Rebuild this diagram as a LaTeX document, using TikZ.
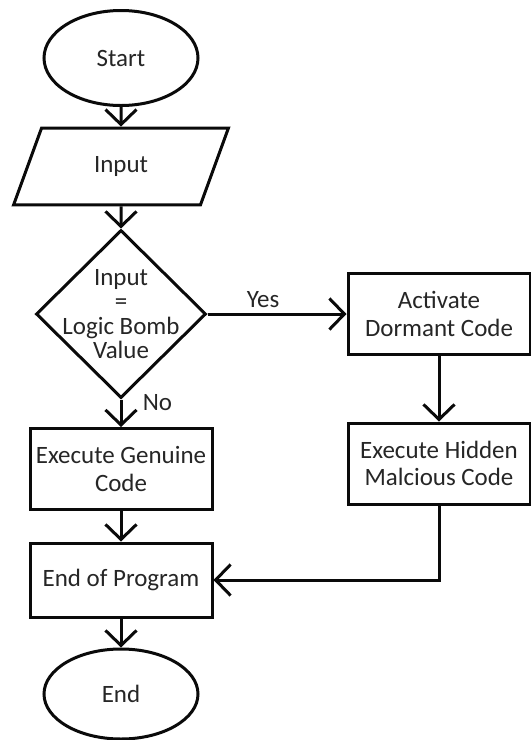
\documentclass[tikz,border=0pt]{standalone}
\usepackage{fontspec}
\setmainfont{Carlito}
\usepackage{xcolor}
\definecolor{darkText}{HTML}{262626}
\definecolor{lineBlack}{HTML}{0A0A0A}
\usetikzlibrary{
    shapes.geometric,
    arrows.meta,
    positioning
}
\tikzset{
    % Base style for all nodes
    flow base/.style={
        font=\fontsize{14.2pt}{15.5pt}\selectfont,
        align=center,
        text=darkText,
        draw=lineBlack,
        line width=0.06cm,
        fill=white,
    },
    % Start/End nodes - plain ellipse
    terminal/.style={
        flow base,
        ellipse,
        minimum width=3.08cm,
        minimum height=1.9cm,
    },
    % Input node - parallelogram
    inputbox/.style={
        flow base,
        trapezium,
        trapezium left angle=70,
        trapezium right angle=110,
        minimum width=4.3cm,
        minimum height=1.34cm,
    },
    % Decision diamond
    decision/.style={
        flow base,
        diamond,
        aspect=1,
        minimum width=3.4cm,
        minimum height=3.36cm,
        inner sep=-6pt,
        font=\fontsize{14.2pt}{13.8pt}\selectfont,
    },
    % Process nodes - plain rectangle
    process/.style={
        flow base,
        rectangle,
        minimum width=3.64cm,
        minimum height=1.62cm,
    },
    % Arrow with open barb
    arrow/.style={
        -{Straight Barb[length=0.3cm, width=0.62cm]},
        line width=0.06cm,
        draw=lineBlack,
    },
    % Label style for Yes/No
    edge label/.style={
        font=\fontsize{14.2pt}{15.5pt}\selectfont,
        text=darkText,
        inner sep=3pt,
    },
}
\begin{document}
\begin{tikzpicture}
    \useasboundingbox (0,0) rectangle (10.62,-14.8);
    \node (start) [terminal] at (2.42,-1.16) {Start};
    \node (input) [inputbox, below of=start, node distance=2.17cm] {Input};
    \node (check) [decision, below of=input, node distance=2.95cm] {Input\\=\\Logic Bomb\\Value};
    \node (genuine) [process, below of=check, node distance=3.1cm] {Execute Genuine\\Code};
    \node (endprog) [process, minimum height=1.48cm, below of=genuine, node distance=2.22cm] {End of Program};
    \node (stop) [terminal, minimum height=1.8cm, below of=endprog, node distance=2.28cm] {End};
    \node (activate) [process, right of=check, node distance=6.36cm] {Activate\\Dormant Code};
    \node (hidden) [process, below of=activate, node distance=2.99cm] {Execute Hidden\\Malcious Code};

    \draw [arrow] (start) -- (input);
    \draw [arrow] (input) -- (check);
    \draw [arrow] (check) -- node[edge label, above, pos=0.4] {Yes} (activate);
    \draw [arrow] (check) -- node[edge label, right, pos=0.12, xshift=0.3cm] {No} (genuine);
    \draw [arrow] (activate) -- (hidden);
    \draw [arrow] (genuine) -- (endprog);
    \draw [arrow] (hidden) |- (endprog);
    \draw [arrow] (endprog) -- (stop);
\end{tikzpicture}
\end{document}
